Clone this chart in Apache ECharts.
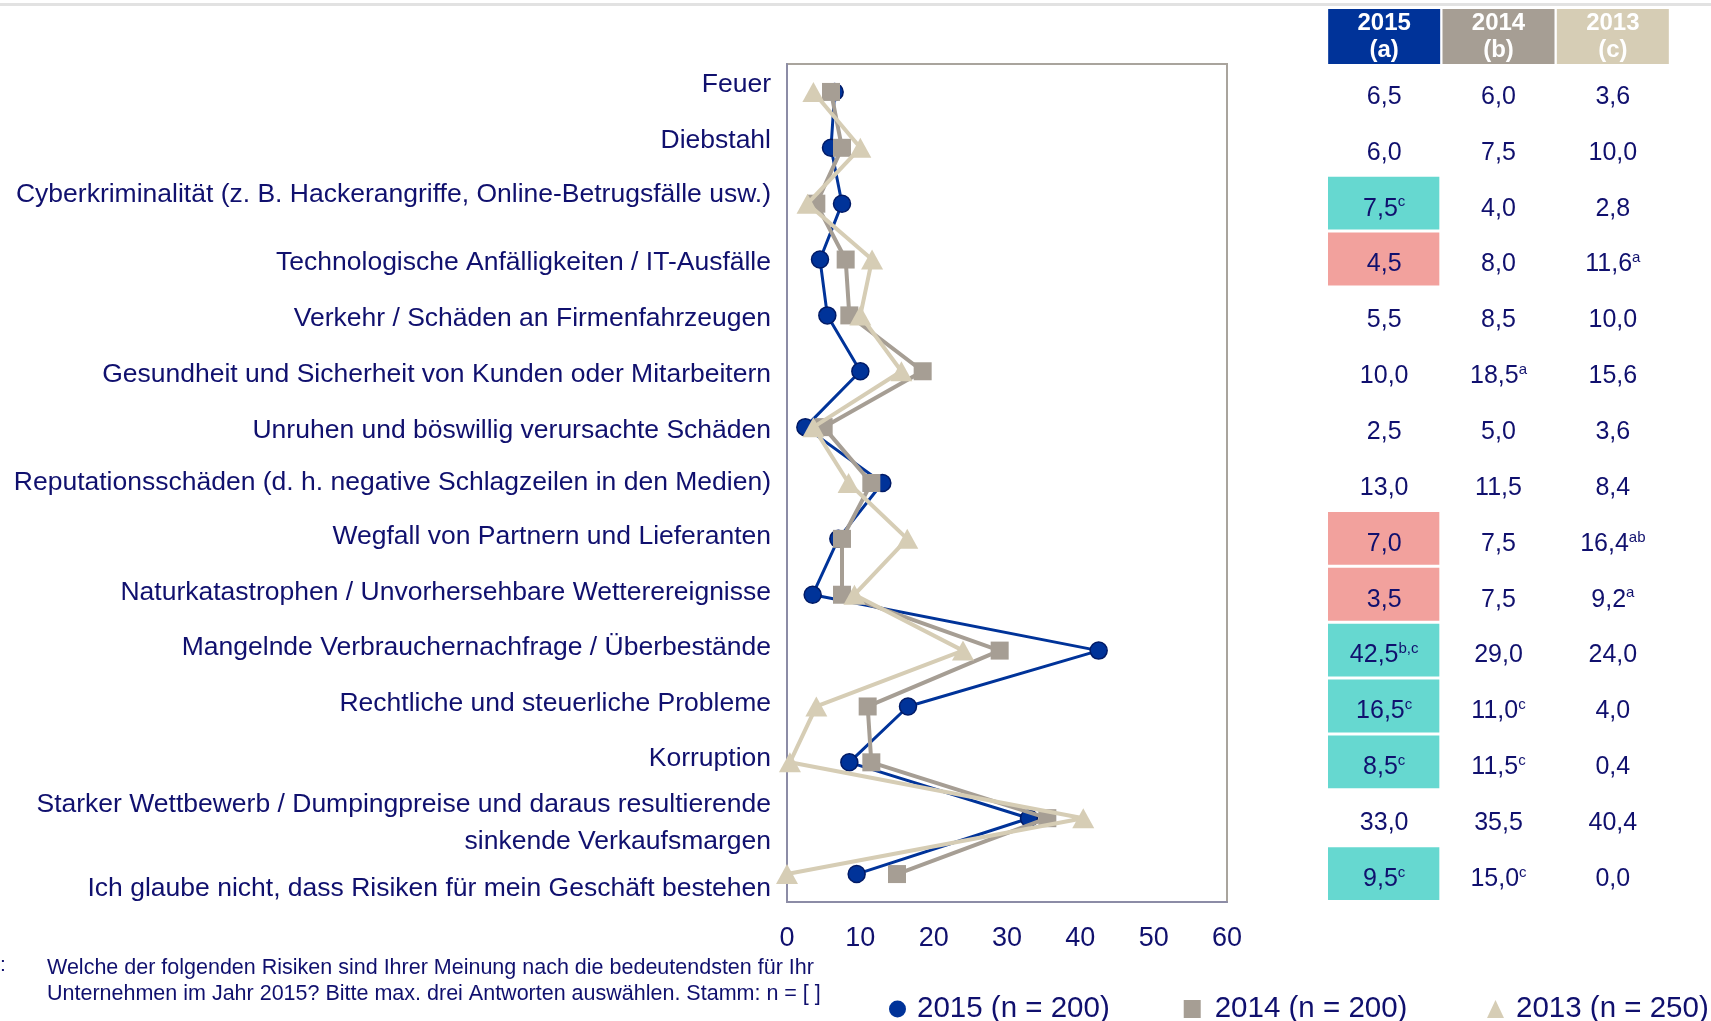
<!DOCTYPE html>
<html>
<head>
<meta charset="utf-8">
<script src="https://cdn.jsdelivr.net/npm/echarts@6/dist/echarts.min.js"></script>
<style>
  html, body { margin: 0; padding: 0; background: #fff; }
  #main { width: 1711px; height: 1021px; }
</style>
</head>
<body>
<div id="main"></div>
<script>
// Kategorien (von oben nach unten)
var categories = [
  "Feuer",
  "Diebstahl",
  "Cyberkriminalität (z. B. Hackerangriffe, Online-Betrugsfälle usw.)",
  "Technologische Anfälligkeiten / IT-Ausfälle",
  "Verkehr / Schäden an Firmenfahrzeugen",
  "Gesundheit und Sicherheit von Kunden oder Mitarbeitern",
  "Unruhen und böswillig verursachte Schäden",
  "Reputationsschäden (d. h. negative Schlagzeilen in den Medien)",
  "Wegfall von Partnern und Lieferanten",
  "Naturkatastrophen / Unvorhersehbare Wetterereignisse",
  "Mangelnde Verbrauchernachfrage / Überbestände",
  "Rechtliche und steuerliche Probleme",
  "Korruption",
  "Starker Wettbewerb / Dumpingpreise und daraus resultierende\nsinkende Verkaufsmargen",
  "Ich glaube nicht, dass Risiken für mein Geschäft bestehen"
];

// Werte in %
var values2015 = [6.5, 6.0, 7.5, 4.5, 5.5, 10.0, 2.5, 13.0, 7.0, 3.5, 42.5, 16.5, 8.5, 33.0, 9.5];
var values2014 = [6.0, 7.5, 4.0, 8.0, 8.5, 18.5, 5.0, 11.5, 7.5, 7.5, 29.0, 11.0, 11.5, 35.5, 15.0];
var values2013 = [3.6, 10.0, 2.8, 11.6, 10.0, 15.6, 3.6, 8.4, 16.4, 9.2, 24.0, 4.0, 0.4, 40.4, 0.0];

// Signifikanz-Hochzahlen
var sup2015 = ["", "", "c", "", "", "", "", "", "", "", "b,c", "c", "c", "", "c"];
var sup2014 = ["", "", "", "", "", "a", "", "", "", "", "", "c", "c", "", "c"];
var sup2013 = ["", "", "", "a", "", "", "", "", "ab", "a", "", "", "", "", ""];

// Markierung der 2015-Zellen: up = signifikant höher, down = signifikant niedriger
var flag2015 = ["", "", "up", "down", "", "", "", "", "down", "down", "up", "up", "up", "", "up"];

var seriesNames = ["2015 (n = 200)", "2014 (n = 200)", "2013 (n = 250)"];
var columnHeads = ["2015\n(a)", "2014\n(b)", "2013\n(c)"];
var xTicks = [0, 10, 20, 30, 40, 50, 60];

var navy = "#10106e";
var blue = "#003399";
var grey = "#a69e94";
var beige = "#d6cdb5";
var font = "'Liberation Sans', Arial, sans-serif";
var narrow = "'Liberation Sans Narrow', 'Arial Narrow', 'Liberation Sans', sans-serif";

// vertikaler Versatz der Achsenbeschriftungen (Padding oben > 0, unten < 0)
var labelPad = [-14, -14, -18, 7, 7, 7, 7, 0, -4, -4, -6, -6, -8, 0, 30];

var myChart = echarts.init(document.getElementById("main"));

// Tabellenzellen aus den Arrays aufbauen
var cells = [];
var cols = [values2015, values2014, values2013];
var sups = [sup2015, sup2014, sup2013];
for (var c = 0; c < 3; c++) {
  for (var r = 0; r < categories.length; r++) {
    cells.push({
      col: c,
      row: r,
      text: cols[c][r].toFixed(1).replace(".", ","),
      sup: sups[c][r],
      flag: c === 0 ? flag2015[r] : ""
    });
  }
}

function renderCell(params, api) {
  var cell = cells[params.dataIndex];
  var pt = api.coord([api.value(0), api.value(1)]);
  var size = api.size([1, 1]);
  var children = [];
  if (cell.flag) {
    children.push({
      type: "rect",
      shape: { x: pt[0] - size[0] / 2 + 1, y: pt[1] - size[1] / 2 + 1, width: size[0] - 3, height: size[1] - 3 },
      style: { fill: cell.flag === "up" ? "#66d8d0" : "#f2a19d" }
    });
  }
  var txt = "{v|" + cell.text + "}" + (cell.sup ? "{s|" + cell.sup + "}" : "");
  children.push({
    type: "text",
    x: pt[0],
    y: pt[1] + 5,
    style: {
      text: txt,
      align: "center",
      verticalAlign: "middle",
      rich: {
        v: { fontSize: 25, fontFamily: font, fill: navy, color: navy },
        s: { fontSize: 15, fontFamily: font, fill: navy, color: navy, padding: [0, 0, 13, 0] }
      }
    }
  });
  return { type: "group", children: children };
}

var headColors = [blue, grey, beige];

// Rich-Stile für die Beschriftungen
var labelRich = {
  e: { fontSize: 1, lineHeight: 9 },
  m: { fontSize: 26.5, fontFamily: font, color: navy, lineHeight: 37 }
};
labelPad.forEach(function (p, i) {
  labelRich["p" + i] = {
    fontSize: 26.5, fontFamily: font, color: navy,
    padding: p >= 0 ? [p, 0, 0, 0] : [0, 0, -p, 0]
  };
});

var legendText = { fontSize: 29.5, fontFamily: font, color: navy, padding: [0, 0, 0, 6] };

var option = {
  animation: false,
  backgroundColor: "#fff",
  graphic: [
    { type: "rect", left: 0, top: 3, shape: { width: 1711, height: 3 }, style: { fill: "#e2e2e2" } },
    {
      type: "text", left: 0, top: 955,
      style: { text: ":", font: "21px " + narrow, fill: navy }
    },
    {
      type: "text", left: 47, top: 955,
      style: {
        text: "Welche der folgenden Risiken sind Ihrer Meinung nach die bedeutendsten für Ihr\nUnternehmen im Jahr 2015? Bitte max. drei Antworten auswählen. Stamm: n = [ ]",
        font: "21.5px " + narrow,
        lineHeight: 26,
        fill: navy
      }
    }
  ],
  legend: [
    {
      left: 884,
      top: 989,
      itemGap: 74,
      itemWidth: 17,
      itemHeight: 18,
      textStyle: legendText,
      itemStyle: { borderWidth: 0 },
      data: [
        { name: seriesNames[0], icon: "circle" },
        { name: seriesNames[1], icon: "rect", textStyle: { padding: [0, 0, 0, 9] } }
      ]
    },
    {
      left: 1482,
      top: 989,
      itemWidth: 17,
      itemHeight: 18,
      textStyle: legendText,
      itemStyle: { borderWidth: 0 },
      data: [
        { name: seriesNames[2], icon: "triangle", textStyle: { padding: [0, 0, 0, 7] } }
      ]
    }
  ],
  grid: [
    {
      left: 787, right: 484, top: 64, bottom: 119,
      show: true, borderColor: "#a9a49d", borderWidth: 2, backgroundColor: "transparent"
    },
    { left: 1327, right: 41, top: 64, bottom: 119 }
  ],
  xAxis: [
    {
      type: "value",
      gridIndex: 0,
      min: xTicks[0],
      max: xTicks[xTicks.length - 1],
      interval: 10,
      splitLine: { show: false },
      axisTick: { show: false },
      axisLine: { show: true, lineStyle: { color: "#8c8ca6", width: 2 } },
      axisLabel: { fontSize: 27, fontFamily: narrow, color: navy, margin: 23 }
    },
    {
      type: "category",
      gridIndex: 1,
      position: "top",
      data: columnHeads.map(function (h, i) {
        return { value: h, textStyle: { backgroundColor: headColors[i] } };
      }),
      axisLine: { show: false },
      axisTick: { show: false },
      axisLabel: {
        interval: 0,
        margin: 0,
        fontSize: 24,
        fontWeight: "bold",
        fontFamily: font,
        color: "#fff",
        lineHeight: 27,
        width: 112,
        align: "center",
        padding: [1, 0, 0, 0]
      }
    }
  ],
  yAxis: [
    {
      type: "category",
      gridIndex: 0,
      inverse: true,
      data: categories,
      axisTick: { show: false },
      axisLine: { show: true, lineStyle: { color: "#8c8ca6", width: 2 } },
      axisLabel: {
        interval: 0,
        margin: 16,
        fontSize: 26.5,
        fontFamily: font,
        color: navy,
        formatter: function (value, index) {
          var lines = value.split("\n");
          if (lines.length > 1) return "{e| }\n{m|" + lines[0] + "}\n{m|" + lines[1] + "}";
          return "{p" + index + "|" + value + "}";
        },
        rich: labelRich
      }
    },
    {
      type: "category",
      gridIndex: 1,
      inverse: true,
      data: categories,
      show: false
    }
  ],
  series: [
    {
      name: seriesNames[0],
      type: "line",
      data: values2015,
      symbol: "circle",
      symbolSize: 17,
      lineStyle: { color: blue, width: 3 },
      itemStyle: { color: blue, borderColor: "#001a66", borderWidth: 1.5 },
      z: 2
    },
    {
      name: seriesNames[1],
      type: "line",
      data: values2014,
      symbol: "rect",
      symbolSize: 18,
      lineStyle: { color: grey, width: 4 },
      itemStyle: { color: grey },
      z: 3
    },
    {
      name: seriesNames[2],
      type: "line",
      data: values2013,
      symbol: "triangle",
      symbolSize: [22, 20],
      lineStyle: { color: beige, width: 4 },
      itemStyle: { color: beige },
      z: 4
    },
    {
      type: "custom",
      xAxisIndex: 1,
      yAxisIndex: 1,
      renderItem: renderCell,
      data: cells.map(function (d) { return [d.col, d.row]; }),
      silent: true
    }
  ]
};

myChart.setOption(option);
</script>
</body>
</html>
